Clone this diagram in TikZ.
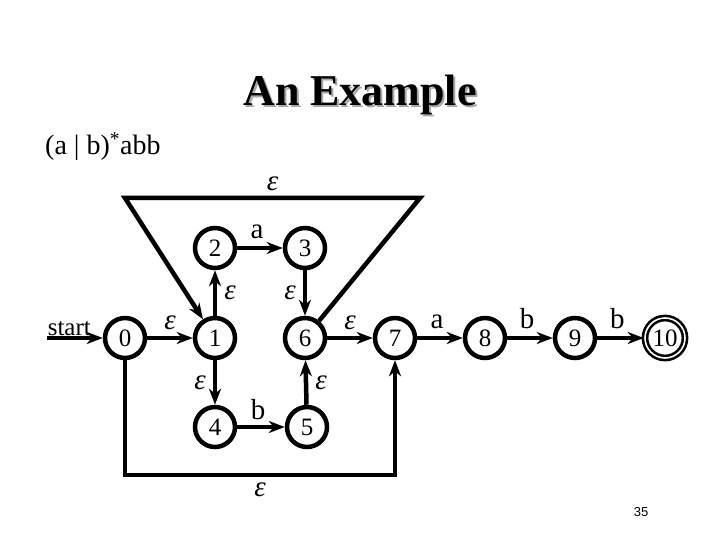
\documentclass[tikz,border=0pt]{standalone}
\usepackage{fontspec}
\setmainfont{Liberation Serif}[BoldFont={Liberation Serif Bold}, ItalicFont={Liberation Serif Italic}]
\newfontfamily\pagefont{Liberation Sans}
\usetikzlibrary{positioning,arrows.meta}
\definecolor{ink}{HTML}{000000}
\definecolor{shade}{HTML}{A8A8A8}
\newcommand{\eps}{\textit{ε}}

\begin{document}
\begin{tikzpicture}[x=1pt, y=-1pt,
    every node/.style={text=ink},
    state/.style={draw=ink, circle, line width=4.5pt, minimum size=40pt, inner sep=0pt,
                  font=\fontsize{25}{25}\selectfont},
    accept/.style={state, line width=2.6pt, double=white, double distance=1.6pt},
    trans/.style={draw=ink, line width=4.5pt, -{Stealth[length=16pt, width=12pt, inset=5pt]}},
    lab/.style={font=\fontsize{29}{29}\selectfont, inner sep=1pt},
  ]
  \useasboundingbox (0,0) rectangle (720,540);

  % title with its shadow
  \node[text=shade, font=\bfseries\fontsize{44}{48}\selectfont] (title-shadow) at (362,97) {An Example};
  \node[font=\bfseries\fontsize{44}{48}\selectfont] (title) at (360,95) {An Example};

  % the regular expression
  \node[anchor=west, font=\fontsize{28}{30}\selectfont, inner sep=0pt] (regex) at (45,147)
        {(a | b)\textsuperscript{*}abb};

  % states
  \node[state] (n0) at (125,338) {0};
  \node[state] (n1) at (215,338) {1};
  \node[state] (n2) at (215,248) {2};
  \node[state] (n3) at (305,248) {3};
  \node[state] (n4) at (215,427) {4};
  \node[state] (n5) at (307,427) {5};
  \node[state] (n6) at (305,338) {6};
  \node[state] (n7) at (395,338) {7};
  \node[state] (n8) at (485,338) {8};
  \node[state] (n9) at (575,338) {9};
  \node[accept] (n10) at (665,338) {10};

  % corners of the two loops
  \coordinate (start) at (47,338);
  \coordinate (tl) at (125,198);
  \coordinate (tr) at (420,198);
  \coordinate (bl) at (125,475);
  \coordinate (br) at (395,475);

  % transitions
  \draw[trans] (start) -- node[lab, above=0pt, pos=0.4, font=\fontsize{25}{25}\selectfont, inner sep=0pt] (lstart) {start} (n0);
  \draw[trans] (n0) -- node[lab, above=5pt] (l01) {\eps} (n1);
  \draw[trans] (n1) -- node[lab, right=6pt] (l12) {\eps} (n2);
  \draw[trans] (n2) -- node[lab, above=6pt, xshift=-3pt] (l23) {a} (n3);
  \draw[trans] (n3) -- node[lab, left=6pt] (l36) {\eps} (n6);
  \draw[trans] (n1) -- node[lab, left=6pt] (l14) {\eps} (n4);
  \draw[trans] (n4) -- node[lab, above=4pt, xshift=-3pt] (l45) {b} (n5);
  \draw[trans] (n5) -- node[lab, right=6pt] (l56) {\eps} (n6);
  \draw[trans] (n6) -- node[lab, above=5pt] (l67) {\eps} (n7);
  \draw[trans] (n7) -- node[lab, above=6pt, xshift=-3pt] (l78) {a} (n8);
  \draw[trans] (n8) -- node[lab, above=6pt, xshift=-3pt] (l89) {b} (n9);
  \draw[trans] (n9) -- node[lab, above=6pt, xshift=-3pt] (l910) {b} (n10);

  % loop back from 6 to 1, and the skip from 0 to 7
  \draw[trans] (n6) -- (tr) -- node[lab, above=4pt] (lloop) {\eps} (tl) -- (n1);
  \draw[trans] (n0) -- (bl) -- node[lab, below=5pt] (lskip) {\eps} (br) -- (n7);

  % page number
  \node[font=\pagefont\fontsize{13}{13}\selectfont] (page) at (641,512) {35};
\end{tikzpicture}
\end{document}
